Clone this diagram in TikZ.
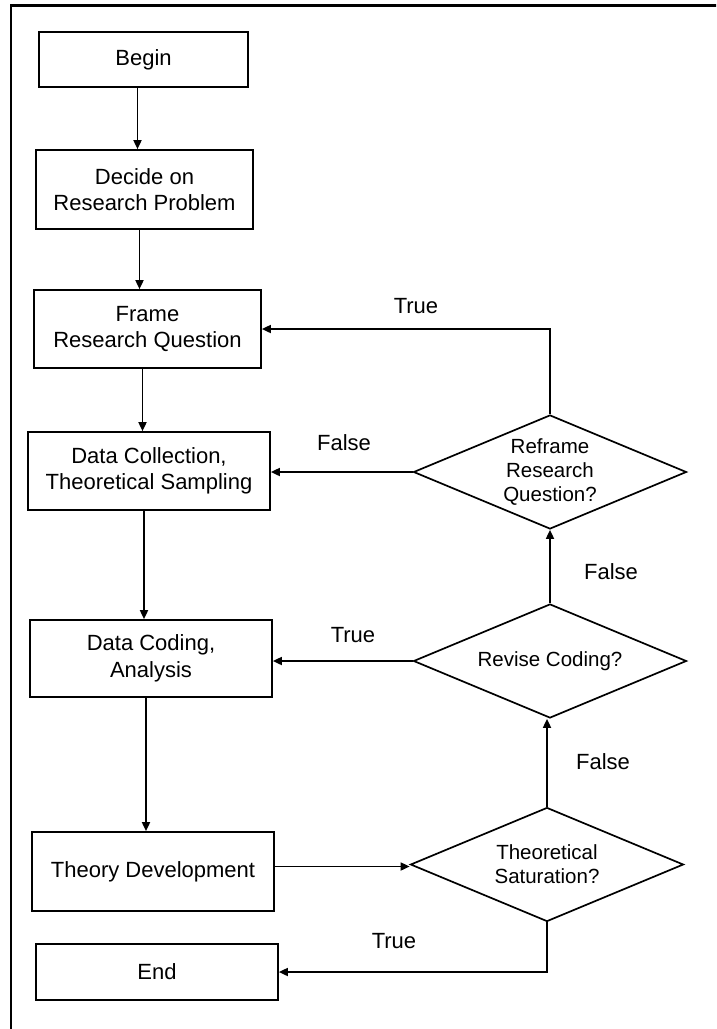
\documentclass[tikz,border=0pt]{standalone}
\usepackage{fontspec}
\setmainfont{Liberation Sans}
\usetikzlibrary{shapes.geometric,arrows.meta}
\newcommand\flowboxfont{\fontsize{22}{26.5}\selectfont}
\newcommand\flowdecfont{\fontsize{20.5}{24}\selectfont}
\begin{document}
\begin{tikzpicture}[x=1pt,y=-1pt,
  stepbox/.style={draw, line width=1.7pt, align=center, inner sep=0pt, font=\flowboxfont},
  decision/.style={draw, diamond, aspect=2.4, line width=1.7pt, align=center,
    inner sep=0pt, minimum width=273pt, minimum height=114pt, font=\flowdecfont},
  arr/.style={line width=1.7pt, -{Triangle[length=9pt,width=8pt]}},
  lbl/.style={font=\flowboxfont, inner sep=0pt},
  border/.style={line width=2.8pt}]
\clip (0,0) rectangle (716,1029);
\fill[white] (0,0) rectangle (716,1029);
% outer frame
\draw[border] (11,1040) -- (11,5.5) -- (730,5.5);

% process boxes
\node[stepbox, minimum width=209pt, minimum height=55pt] (begin) at (143.5,59.5) {Begin};
\node[stepbox, minimum width=217pt, minimum height=79pt] (decide) at (144.5,189.5) {Decide on\\Research Problem};
\node[stepbox, minimum width=227pt, minimum height=78pt] (frame) at (147.5,329) {Frame\\Research Question};
\node[stepbox, minimum width=242pt, minimum height=78pt] (collect) at (149,471) {Data Collection,\\Theoretical Sampling};
\node[stepbox, minimum width=242pt, minimum height=77pt] (coding) at (151,658.5) {Data Coding,\\Analysis};
\node[stepbox, minimum width=242pt, minimum height=79pt] (theory) at (153,871.5) {Theory Development};
\node[stepbox, minimum width=242pt, minimum height=56pt] (end) at (157,972) {End};

% decisions
\node[decision] (reframe) at (550,472) {Reframe\\Research\\Question?};
\node[decision] (revise) at (550,661) {Revise Coding?};
\node[decision] (satur) at (547,864.5) {Theoretical\\Saturation?};

% main sequence
\draw[arr] ([xshift=-6pt]begin.south) -- ([xshift=-6pt]begin.south |- decide.north);
\draw[arr] ([xshift=-5pt]decide.south) -- ([xshift=-5pt]decide.south |- frame.north);
\draw[arr] ([xshift=-5pt]frame.south) -- ([xshift=-5pt]frame.south |- collect.north);
\draw[arr] ([xshift=-5pt]collect.south) -- ([xshift=-5pt]collect.south |- coding.north);
\draw[arr] ([xshift=-5pt]coding.south) -- ([xshift=-5pt]coding.south |- theory.north);

% feedback loops
\draw[arr] ([yshift=-2pt]theory.east |- satur.west) -- ([yshift=-2pt]satur.west);
\draw[arr] (satur.north) -- (satur.north |- revise.south);
\draw[arr] (revise.north) -- (reframe.south);
\draw[arr] (reframe.north) |- (frame.east);
\draw[arr] (reframe.west) -- (reframe.west -| collect.east);
\draw[arr] (revise.west) -- (revise.west -| coding.east);
\draw[arr] (satur.south) |- (end.east);

% branch labels
\node[lbl] (t1) at (416,306) {True};
\node[lbl] (f1) at (344,443) {False};
\node[lbl] (f2) at (611,572) {False};
\node[lbl] (t2) at (353,635) {True};
\node[lbl] (f3) at (603,762) {False};
\node[lbl] (t3) at (394,941) {True};
\end{tikzpicture}
\end{document}
